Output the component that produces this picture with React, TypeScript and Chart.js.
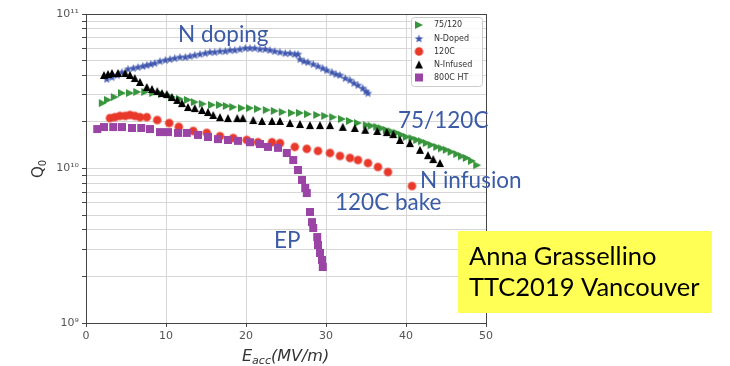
import React, { useEffect, useRef } from 'react';
import { Chart, registerables } from 'chart.js';

Chart.register(...registerables);

// ---------------- data (E in MV/m, Q0 in units of 1e10) ----------------
const series75120E = [2.1, 2.75, 3.6, 4.5, 5.5, 6.4, 7.4, 8.4, 9.5, 10.75, 11.75, 12.75, 13.6, 14.6, 15.75, 16.75, 17.6, 18.4, 19.5, 20.5, 21.5, 22.6, 23.6, 24.6, 25.75, 26.75, 27.75, 28.9, 29.9, 30.9, 32, 33, 34, 35.1, 35.7, 36.4, 37.0, 37.6, 38.2, 38.9, 39.5, 40.1, 40.8, 41.4, 42.0, 42.6, 43.2, 43.9, 44.5, 45.1, 45.7, 46.4, 47.0, 47.6, 48.25, 48.9];
const series75120Q = [2.65, 2.78, 2.90, 3.08, 3.08, 3.13, 3.13, 3.08, 3.03, 2.90, 2.82, 2.78, 2.69, 2.62, 2.58, 2.58, 2.54, 2.50, 2.46, 2.46, 2.43, 2.39, 2.36, 2.32, 2.29, 2.29, 2.25, 2.22, 2.19, 2.15, 2.09, 2.03, 1.97, 1.91, 1.89, 1.86, 1.82, 1.775, 1.74, 1.70, 1.65, 1.60, 1.57, 1.53, 1.50, 1.46, 1.42, 1.38, 1.35, 1.32, 1.28, 1.24, 1.20, 1.17, 1.12, 1.05];

const nDopedE = [2.6, 3.25, 3.9, 4.5, 5.25, 5.9, 6.5, 7.1, 7.6, 8.1, 8.6, 9.25, 9.9, 10.5, 11.1, 11.75, 12.4, 13, 13.6, 14.25, 14.9, 15.5, 16.1, 16.75, 17.4, 18, 18.6, 19.25, 19.9, 20.5, 21.1, 21.75, 22.4, 23, 23.6, 24.25, 24.9, 25.5, 26.1, 26.5, 26.75, 27.25, 27.75, 28.4, 29, 29.6, 30.1, 30.75, 31.25, 31.75, 32.4, 33, 33.5, 34, 34.6, 35, 35.25];
const nDopedQ = [3.80, 3.91, 4.03, 4.21, 4.41, 4.47, 4.54, 4.61, 4.68, 4.75, 4.82, 4.96, 5.04, 5.11, 5.19, 5.27, 5.27, 5.35, 5.43, 5.51, 5.59, 5.68, 5.68, 5.76, 5.76, 5.85, 5.85, 5.94, 6.03, 6.03, 6.03, 5.94, 5.94, 5.85, 5.76, 5.68, 5.59, 5.59, 5.51, 5.51, 5.11, 4.96, 4.89, 4.75, 4.61, 4.47, 4.34, 4.21, 4.09, 4.03, 3.85, 3.74, 3.58, 3.47, 3.32, 3.17, 3.08];

const bake120E = [3, 3.6, 4.25, 4.9, 5.5, 6.1, 6.75, 7.6, 8.9, 10.4, 11.6, 13.4, 15.1, 16.75, 18.4, 20.1, 21.5, 23.25, 24.25, 26.1, 27.6, 29, 30.5, 31.75, 33, 34, 35.25, 36.5, 37.75, 40.75];
const bake120Q = [2.12, 2.15, 2.19, 2.19, 2.22, 2.19, 2.15, 2.15, 2.06, 1.97, 1.86, 1.75, 1.70, 1.62, 1.575, 1.53, 1.48, 1.48, 1.46, 1.38, 1.34, 1.30, 1.26, 1.205, 1.17, 1.135, 1.085, 1.023, 0.949, 0.77];

const nInfusedE = [2.25, 2.75, 3.25, 4.0, 4.9, 5.5, 6.1, 6.75, 7.6, 8.25, 8.9, 9.5, 10.1, 10.75, 11.4, 12, 12.75, 13.6, 14.5, 15.25, 15.9, 16.75, 17.75, 18.9, 19.6, 20.9, 22, 23.25, 24.25, 25.5, 26.75, 28, 29.25, 30.5, 32.1, 33.6, 34.9, 36.4, 37.6, 38.4, 39.25, 40.5, 41.75, 42.75, 43.4, 44.25];
const nInfusedQ = [4.03, 4.09, 4.15, 4.15, 4.15, 4.03, 3.85, 3.63, 3.37, 3.27, 3.17, 3.08, 3.03, 2.90, 2.78, 2.65, 2.50, 2.46, 2.39, 2.32, 2.22, 2.15, 2.12, 2.12, 2.12, 2.06, 2.03, 2.03, 2.03, 1.97, 1.94, 1.91, 1.91, 1.91, 1.86, 1.83, 1.78, 1.75, 1.72, 1.67, 1.53, 1.46, 1.32, 1.22, 1.15, 1.085];

const ht800E = [1.4, 2.25, 3.4, 4.5, 5.75, 6.9, 8, 9.25, 10.25, 11.5, 12.6, 14, 15.25, 16.5, 17.75, 19, 20.5, 21.75, 22.75, 24, 25.1, 25.9, 26.5, 27, 27.4, 27.6, 28, 28.25, 28.4, 28.9, 29, 29.25, 29.5, 29.6];
const ht800Q = [1.80, 1.856, 1.856, 1.856, 1.83, 1.83, 1.80, 1.72, 1.72, 1.70, 1.70, 1.65, 1.60, 1.55, 1.53, 1.51, 1.48, 1.44, 1.38, 1.36, 1.26, 1.135, 0.978, 0.843, 0.748, 0.694, 0.523, 0.450, 0.412, 0.360, 0.320, 0.284, 0.256, 0.2305];

const seriesLabels = ['75/120', 'N-Doped', '120C', 'N-Infused', '800C HT'];
const Q_UNIT = 1e10;

const xTickValues = [0, 10, 20, 30, 40, 50];
const yDecades = [1e9, 1e10, 1e11];
const yDecadeLabels = ['10⁹', '10¹⁰', '10¹¹'];
const yMinorMultipliers = [2, 3, 4, 5, 6, 7, 8, 9];

const annotationTexts = ['N doping', '75/120C', 'N infusion', '120C bake', 'EP'];
const creditLines = ['Anna Grassellino', 'TTC2019 Vancouver'];

// ---------------- markers ----------------
type Shape = 'triRight' | 'triUp' | 'star' | 'circle' | 'square';

function makeMarker(shape: Shape, size: number, color: string): HTMLCanvasElement {
  const s = Math.ceil(size) + 2;
  const c = document.createElement('canvas');
  c.width = s;
  c.height = s;
  const ctx = c.getContext('2d')!;
  ctx.fillStyle = color;
  const cx = s / 2, cy = s / 2, r = size / 2;
  ctx.beginPath();
  if (shape === 'circle') {
    ctx.arc(cx, cy, r, 0, Math.PI * 2);
  } else if (shape === 'square') {
    ctx.rect(cx - r, cy - r, 2 * r, 2 * r);
  } else if (shape === 'triUp') {
    ctx.moveTo(cx, cy - r);
    ctx.lineTo(cx + r, cy + r);
    ctx.lineTo(cx - r, cy + r);
  } else if (shape === 'triRight') {
    ctx.moveTo(cx + r, cy);
    ctx.lineTo(cx - r, cy - r);
    ctx.lineTo(cx - r, cy + r);
  } else {
    const inner = r * 0.42;
    for (let i = 0; i < 10; i++) {
      const ang = -Math.PI / 2 + (i * Math.PI) / 5;
      const rr = i % 2 === 0 ? r : inner;
      const px = cx + rr * Math.cos(ang);
      const py = cy + rr * Math.sin(ang) + r * 0.1;
      if (i === 0) ctx.moveTo(px, py); else ctx.lineTo(px, py);
    }
  }
  ctx.closePath();
  ctx.fill();
  return c;
}

const COLORS = {
  green: '#38953d',
  blue: '#3d55ad',
  red: '#e8392b',
  black: '#000000',
  purple: '#9a44a6',
  annot: '#3b5ba6',
};

export default function App() {
  const ref = useRef<HTMLCanvasElement>(null);

  useEffect(() => {
    const markers = [
      makeMarker('triRight', 8, COLORS.green),
      makeMarker('star', 9, COLORS.blue),
      makeMarker('circle', 8.5, COLORS.red),
      makeMarker('triUp', 8, COLORS.black),
      makeMarker('square', 8, COLORS.purple),
    ];
    const es = [series75120E, nDopedE, bake120E, nInfusedE, ht800E];
    const qs = [series75120Q, nDopedQ, bake120Q, nInfusedQ, ht800Q];

    const datasets = seriesLabels.map((label, i) => ({
      label,
      data: es[i].map((x, j) => ({ x, y: qs[i][j] * Q_UNIT })),
      pointStyle: markers[i] as any,
      pointRadius: 4,
      showLine: false,
      order: 5 - i,
    }));

    const yTicks: number[] = [];
    yDecades.forEach((d, k) => {
      yTicks.push(d);
      if (k < yDecades.length - 1) yMinorMultipliers.forEach((m) => yTicks.push(d * m));
    });

    const extras = {
      id: 'extras',
      beforeDatasetsDraw(chart: any) {
        const { ctx, chartArea: a } = chart;
        ctx.save();
        ctx.strokeStyle = '#444';
        ctx.lineWidth = 1;
        ctx.strokeRect(a.left + 0.5, a.top + 0.5, a.right - a.left, a.bottom - a.top);
        ctx.restore();
      },
      afterDraw(chart: any) {
        const { ctx } = chart;
        ctx.save();

        // legend
        ctx.fillStyle = 'rgba(255,255,255,0.85)';
        ctx.strokeStyle = '#cccccc';
        ctx.lineWidth = 1;
        ctx.beginPath();
        (ctx as any).roundRect(411.5, 17.5, 71, 69, 3);
        ctx.fill();
        ctx.stroke();
        const rows = [25, 38.5, 51.5, 64.5, 77.5];
        ctx.font = '8px "DejaVu Sans"';
        ctx.textBaseline = 'middle';
        ctx.textAlign = 'left';
        seriesLabels.forEach((lab, i) => {
          const m = markers[i];
          ctx.drawImage(m, 419 - m.width / 2, rows[i] - m.height / 2);
          ctx.fillStyle = '#333';
          ctx.fillText(lab, 434, rows[i]);
        });

        // annotations
        ctx.textBaseline = 'alphabetic';
        ctx.fillStyle = COLORS.annot;
        ctx.font = '22.5px Lato';
        const annPos = [[178, 42], [398, 128], [420, 188], [335, 210], [274, 248]];
        annotationTexts.forEach((t, i) => ctx.fillText(t, annPos[i][0], annPos[i][1]));

        // credit box
        ctx.fillStyle = '#ffff55';
        ctx.fillRect(458, 231, 254, 82);
        ctx.fillStyle = '#000';
        ctx.font = '25.5px Lato';
        ctx.fillText(creditLines[0], 469, 265);
        ctx.fillText(creditLines[1], 469, 296);

        // x axis title E_acc(MV/m)
        ctx.fillStyle = '#333';
        let x = 242;
        ctx.font = 'italic 16px "DejaVu Sans"';
        ctx.fillText('E', x, 361);
        x += ctx.measureText('E').width;
        ctx.font = 'italic 11px "DejaVu Sans"';
        ctx.fillText('acc', x, 364);
        x += ctx.measureText('acc').width;
        ctx.font = 'italic 16px "DejaVu Sans"';
        ctx.fillText('(MV/m)', x, 361);

        // y axis title Q0
        ctx.translate(43, 178);
        ctx.rotate(-Math.PI / 2);
        ctx.font = '15px "DejaVu Sans"';
        ctx.fillText('Q', 0, 0);
        const qw = ctx.measureText('Q').width;
        ctx.font = '10px "DejaVu Sans"';
        ctx.fillText('0', qw, 3);
        ctx.restore();
      },
    };

    const chart = new Chart(ref.current!, {
      type: 'scatter',
      data: { datasets: datasets as any },
      options: {
        responsive: false,
        animation: false,
        devicePixelRatio: 1,
        layout: { padding: { left: 0, right: 244, top: 14, bottom: 0 } },
        plugins: { legend: { display: false }, tooltip: { enabled: false } },
        events: [],
        scales: {
          x: {
            type: 'linear',
            min: 0,
            max: 50,
            afterFit: (s: any) => { s.height = 43; },
            afterBuildTicks: (s: any) => { s.ticks = xTickValues.map((v) => ({ value: v })); },
            grid: { color: '#d6d6d6', tickColor: '#444', tickLength: 4 },
            border: { color: '#444' },
            ticks: { color: '#555', font: { family: 'DejaVu Sans', size: 11 }, padding: 3, maxRotation: 0 },
          },
          y: {
            type: 'logarithmic',
            min: 1e9,
            max: 1e11,
            afterFit: (s: any) => { s.width = 86; },
            afterBuildTicks: (s: any) => { s.ticks = yTicks.map((v) => ({ value: v })); },
            grid: { color: '#d6d6d6', tickColor: '#444', tickLength: 4 },
            border: { color: '#444' },
            ticks: {
              color: '#555',
              font: { family: 'DejaVu Sans', size: 11 },
              padding: 3,
              autoSkip: false,
              callback: (v: any) => {
                const k = yDecades.indexOf(Number(v));
                return k >= 0 ? yDecadeLabels[k] : '';
              },
            },
          },
        },
      },
      plugins: [extras],
    });
    return () => chart.destroy();
  }, []);

  return (
    <div style={{ position: 'fixed', left: 0, top: 0, width: 730, height: 366, background: '#fff' }}>
      <canvas ref={ref} width={730} height={366} style={{ width: 730, height: 366, display: 'block' }} />
    </div>
  );
}
